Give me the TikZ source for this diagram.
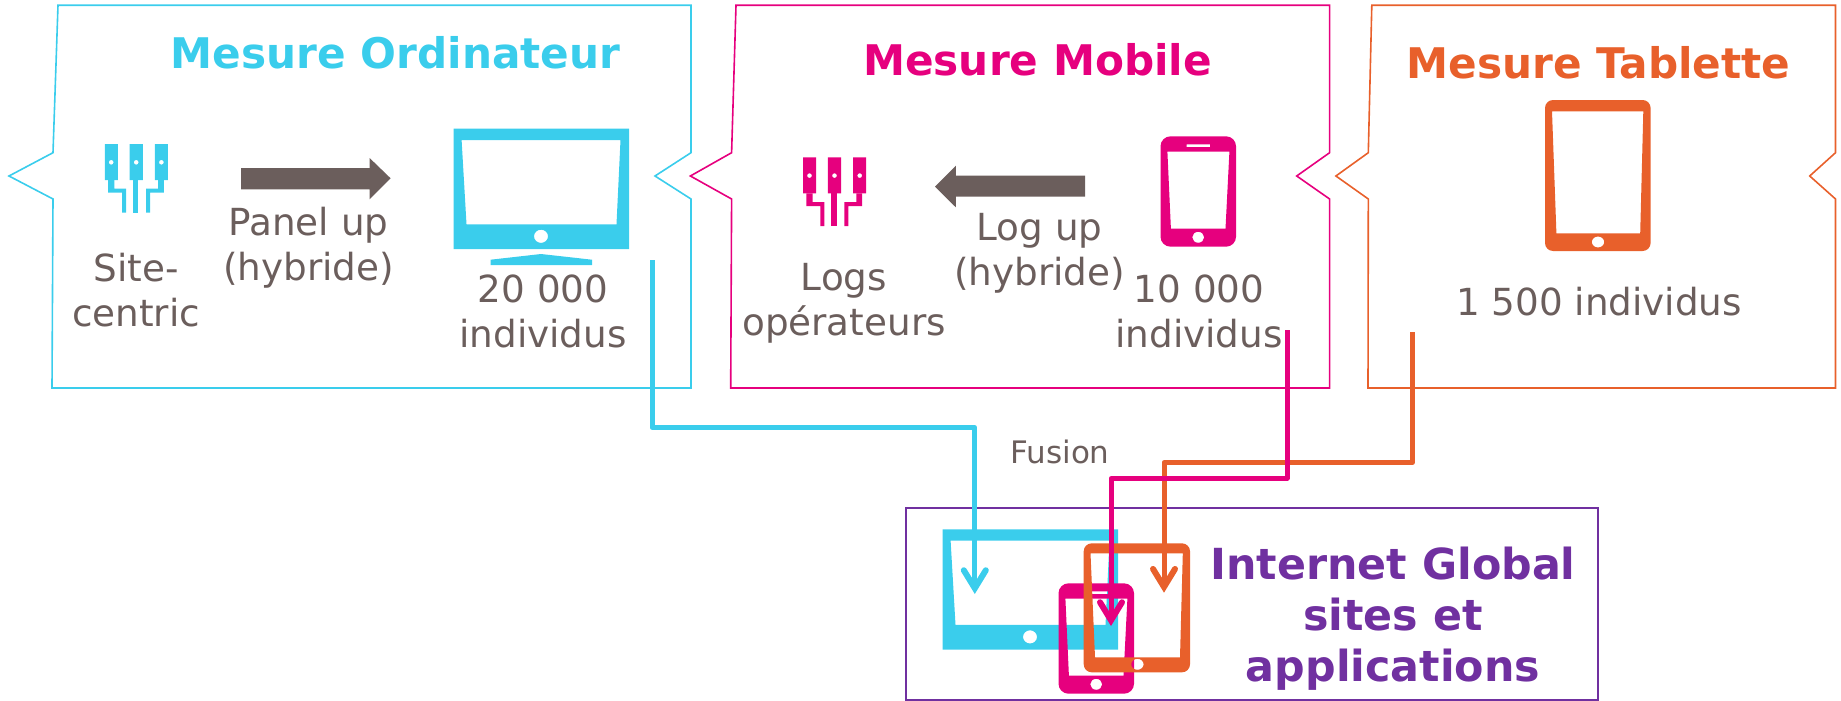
\documentclass[tikz,border=0pt]{standalone}
\usepackage{fontspec}
\setmainfont{DejaVu Sans}
\usetikzlibrary{arrows.meta}
\definecolor{cyanc}{HTML}{3ACDEC}
\definecolor{pinkc}{HTML}{E6007E}
\definecolor{orangec}{HTML}{E8602B}
\definecolor{purplec}{HTML}{7030A0}
\definecolor{greyc}{HTML}{6B5E5C}
\tikzset{
  outline/.style={line width=1.6pt,line join=miter},
  txt/.style={text=greyc,font=\fontsize{37.3}{45}\selectfont,align=center,inner sep=0pt,anchor=base},
  titlelab/.style={font=\bfseries\fontsize{42.2}{51}\selectfont,align=center,inner sep=0pt,anchor=base},
  link/.style={line width=5pt,line join=round,-{Straight Barb[length=18pt,width=22pt,line width=6pt,line cap=round,line join=miter]}},
}
\newcommand{\monitoricon}[3]{%
  \begin{scope}[shift={(#2,#3)}]
    \fill[#1,even odd rule] (453.6,128.7) rectangle (629,249)
      (461.6,140) -- (620.5,140) -- (616.5,224.3) -- (466.5,224.3) -- cycle
      (541,236.3) ellipse [x radius=7,y radius=6.6];
  \end{scope}}
\newcommand{\phoneicon}[3]{%
  \begin{scope}[shift={(#2,#3)}]
    \fill[#1,even odd rule,rounded corners=10pt] (1160.5,136.3) rectangle (1236,246.7)
      [sharp corners] (1167.4,151.7) -- (1229.4,151.7) -- (1225.5,228.7) -- (1170.9,228.7) -- cycle
      (1186.5,144.3) rectangle (1210,147)
      (1198.2,237.3) ellipse [x radius=6,y radius=5.5];
  \end{scope}}
\newcommand{\siteicon}[3]{%
  \begin{scope}[shift={(#2,#3)}]
    \fill[#1,even odd rule] (104.9,144) rectangle (117.9,180)
      (111.2,162.3) ellipse [x radius=2.4,y radius=2.4];
    \fill[#1,even odd rule] (129.5,144) rectangle (142.9,180)
      (136.2,162.3) ellipse [x radius=2.4,y radius=2.4];
    \fill[#1,even odd rule] (154.9,144) rectangle (167.9,180)
      (161.4,162.3) ellipse [x radius=2.4,y radius=2.4];
    \fill[#1] (133,180) rectangle (138.4,212.7);
    \fill[#1] (108,180) -- (114.3,180) -- (114.3,188.7) -- (126,188.7) -- (126,212.7) -- (122,212.7) -- (122,192.7) -- (108,192.7) -- cycle;
    \fill[#1] (163.8,180) -- (158,180) -- (158,188.7) -- (146,188.7) -- (146,212.7) -- (150,212.7) -- (150,192.7) -- (163.8,192.7) -- cycle;
  \end{scope}}
\begin{document}
\begin{tikzpicture}[x=1pt,y=-1pt]
\useasboundingbox (0,0) rectangle (1841,701);
% frames
\draw[outline,cyanc] (58,5.3) -- (53,152.7) -- (9,176) -- (53,199) -- (52,388) -- (691,388) -- (691,199) -- (655,176) -- (691,152.7) -- (691,5.3) -- cycle;
\draw[outline,pinkc] (736,5.3) -- (731.6,152.7) -- (690.4,176) -- (731.6,199) -- (730.7,388) -- (1329.6,388) -- (1329.6,199) -- (1296.7,176) -- (1329.6,152.7) -- (1329.6,5.3) -- cycle;
\draw[outline,orangec] (1371.8,5.3) -- (1368.3,152.7) -- (1335.9,176) -- (1368.3,199) -- (1368,388) -- (1835.5,388) -- (1835.5,199) -- (1809.7,176) -- (1835.5,152.7) -- (1835.5,5.3) -- cycle;
\node[draw=purplec,line width=1.6pt,minimum width=692pt,minimum height=192.3pt,inner sep=0pt] (globalbox) at (1252,603.85) {};
% titles
\node[titlelab,text=cyanc] (t1) at (395.5,68) {Mesure Ordinateur};
\node[titlelab,text=pinkc] (t2) at (1037.6,75) {Mesure Mobile};
\node[titlelab,text=orangec] (t3) at (1598.5,78) {Mesure Tablette};
% first row icons
\siteicon{cyanc}{0}{0}
\monitoricon{cyanc}{0}{0}
\fill[cyanc] (490.6,265) -- (592,265) -- (592,259.7) -- (541,254) -- (490.6,259.7) -- cycle;
\siteicon{pinkc}{698.3}{13.3}
\phoneicon{pinkc}{0}{0}
\fill[orangec,even odd rule,rounded corners=8pt] (1545,100) rectangle (1650.6,251)
  [sharp corners] (1552,111.3) -- (1643.3,111.3) -- (1640.2,233.3) -- (1556.4,233.3) -- cycle
  (1598,242) ellipse [x radius=6.2,y radius=5.5];
% big grey arrows
\fill[greyc] (241,168) -- (369.6,168) -- (369.6,158) -- (390.6,178.3) -- (369.6,199.3) -- (369.6,189.3) -- (241,189.3) -- cycle;
\fill[greyc] (1085,175.7) -- (955.8,175.7) -- (955.8,165.7) -- (935,186.7) -- (955.8,207.3) -- (955.8,196.7) -- (1085,196.7) -- cycle;
% labels
\node[txt] (lsite) at (136,326.7) {Site-\\centric};
\node[txt] (lpanel) at (308.5,280) {Panel up\\(hybride)};
\node[txt] (lvingt) at (543,347.3) {20 000\\individus};
\node[txt] (llogs) at (844,335) {Logs\\opérateurs};
\node[txt] (llog) at (1039.5,285) {Log up\\(hybride)};
\node[txt] (ldix) at (1199,347.3) {10 000\\individus};
\node[txt] (lmille) at (1599,315) {1 500 individus};
\node[txt,font=\fontsize{31}{37}\selectfont] (lfusion) at (1060,463.3) {Fusion};
% global section
\monitoricon{cyanc}{489}{400.6}
\phoneicon{pinkc}{-102}{447}
\fill[orangec,even odd rule,rounded corners=8pt] (1083.7,543.3) rectangle (1190,672.3)
  [sharp corners] (1090.5,553.3) -- (1182.8,553.3) -- (1180,657.3) -- (1095,657.3) -- cycle
  (1137.4,664.3) ellipse [x radius=6.2,y radius=5.5];
\node[titlelab,font=\bfseries\fontsize{42.8}{51}\selectfont,text=purplec] (tglobal) at (1393,681) {Internet Global\\sites et\\applications};
% connectors
\coordinate (c1s) at (652,260);
\coordinate (c1e) at (974.8,594);
\coordinate (c2s) at (1287,330);
\coordinate (c2e) at (1111,626);
\coordinate (c3s) at (1412.5,332.3);
\coordinate (c3e) at (1164,592.7);
\draw[link,cyanc] (c1s) |- (974.8,427.5) -- (c1e);
\draw[link,orangec] (c3s) |- (1164,462.3) -- (c3e);
\draw[link,pinkc] (c2s) |- (1111,478.3) -- (c2e);
\end{tikzpicture}
\end{document}
